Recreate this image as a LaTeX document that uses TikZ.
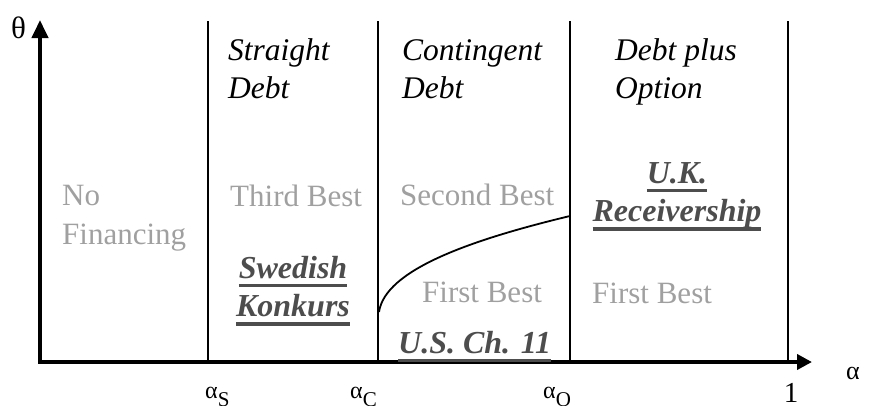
\documentclass[tikz,border=0pt]{standalone}
\usepackage{fontspec}
\setmainfont{Liberation Serif}
\usetikzlibrary{arrows.meta}
\definecolor{greytxt}{RGB}{160,160,160}
\definecolor{darktxt}{RGB}{77,77,77}
\newcommand\ulx[1]{\setbox0\hbox{#1}\rlap{\rule[-9pt]{\wd0}{3.5pt}}\box0}
\newcommand\blk[2]{\begin{tabular}[t]{@{}#1@{}}#2\end{tabular}}
\newcommand\sublbl[1]{α\raisebox{-8pt}{\fontsize{21}{21}\selectfont #1}}
\begin{document}
\begin{tikzpicture}[x=1pt,y=-1pt,
  axis/.style={line width=4pt,{Triangle[length=18pt,width=16pt]}-{Triangle[length=15pt,width=15pt]}},
  divider/.style={line width=1.8pt},
  boundary/.style={line width=1.8pt},
  header/.style={anchor=base west,inner sep=0pt,font=\fontsize{31.5}{38.5}\selectfont\itshape},
  region/.style={anchor=base west,inner sep=0pt,text=greytxt,font=\fontsize{31}{39}\selectfont},
  law/.style={anchor=base,inner sep=0pt,text=darktxt,font=\fontsize{32}{38.5}\selectfont\bfseries\itshape},
  greek/.style={anchor=base west,inner sep=0pt,font=\fontsize{24}{24}\selectfont},
]
\useasboundingbox (0,0) rectangle (874,405);
% axes
\coordinate (O) at (40,362);
\coordinate (ytip) at (40,20);
\coordinate (xtip) at (812,362);
% dividers
\coordinate (sT) at (208,21); \coordinate (sB) at (208,362);
\coordinate (cT) at (378,21); \coordinate (cB) at (378,362);
\coordinate (oT) at (570,21); \coordinate (oB) at (570,362);
\coordinate (eT) at (788,21); \coordinate (eB) at (788,362);
\draw[divider] (sT) -- (sB);
\draw[divider] (cT) -- (cB);
\draw[divider] (oT) -- (oB);
\draw[divider] (eT) -- (eB);
\draw[axis] (ytip) -- (O) -- (xtip);
% curve
\coordinate (cS) at (379,312);
\coordinate (cE) at (570,216);
\draw[boundary] (cS) .. controls (385,270) and (470,240) .. (cE);
% axis labels
\node[greek,font=\fontsize{31}{31}\selectfont] (theta) at (11,38) {θ};
\node[greek,font=\fontsize{26}{26}\selectfont] (alpha) at (846,379) {α};
\node[greek] (aS) at (205,398) {\sublbl{S}};
\node[greek] (aC) at (350,398) {\sublbl{C}};
\node[greek] (aO) at (543,398) {\sublbl{O}};
\node[anchor=base,inner sep=0pt,font=\fontsize{29}{29}\selectfont] (one) at (791,402) {1};
% headers
\node[header] (h1) at (228,60) {\blk{l}{Straight\\Debt}};
\node[header] (h2) at (402,60) {\blk{l}{Contingent\\Debt}};
\node[header] (h3) at (615,60) {\blk{l}{Debt plus\\Option}};
% regions
\node[region] (nf) at (62,205) {\blk{l}{No\\Financing}};
\node[region] (tb) at (230,206) {Third Best};
\node[region] (sb) at (400,205) {Second Best};
\node[region] (fb1) at (422,302) {First Best};
\node[region] (fb2) at (592,303) {First Best};
% laws
\node[law] (sw) at (293,278) {\blk{c}{\ulx{Swedish}\\\ulx{Konkurs}}};
\node[law,anchor=base west] (us) at (398,353) {\ulx{U.S. Ch. 11}};
\node[law] (uk) at (677,183) {\blk{c}{\ulx{U.K.}\\\ulx{Receivership}}};
\end{tikzpicture}
\end{document}
